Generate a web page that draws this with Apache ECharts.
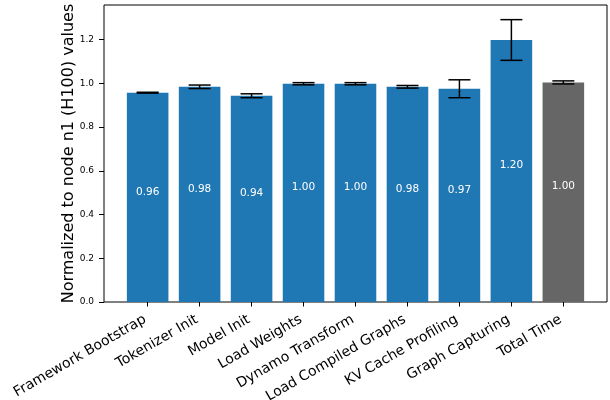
<!DOCTYPE html>
<html><head><meta charset="utf-8">
<script src="https://cdn.jsdelivr.net/npm/echarts@6/dist/echarts.min.js"></script>
<style>html,body{margin:0;padding:0;background:#fff}#c{width:610px;height:400px}</style>
</head><body><div id="c"></div>
<script>
const categories = ["Framework Bootstrap","Tokenizer Init","Model Init","Load Weights","Dynamo Transform","Load Compiled Graphs","KV Cache Profiling","Graph Capturing","Total Time"];
const values = [0.957, 0.984, 0.943, 0.998, 0.998, 0.984, 0.975, 1.198, 1.004];
const errors = [0.002, 0.008, 0.009, 0.005, 0.005, 0.006, 0.041, 0.093, 0.007];
const labels = ["0.96","0.98","0.94","1.00","1.00","0.98","0.97","1.20","1.00"];
const yTicks = [0, 0.2, 0.4, 0.6, 0.8, 1.0, 1.2];
const barColor = '#1f77b4', totalColor = '#666666';
const yMax = 1.358;
const FONT = 'DejaVu Sans';

const chart = echarts.init(document.getElementById('c'), null, {renderer:'canvas'});
const plotL = 104, plotR = 3, plotT = 5, plotB = 98;
const plotW = 610 - plotL - plotR;
const unit = plotW / 9.68;
const dataL = plotL + 0.34 * unit;
const dataW = 9 * unit;

chart.setOption({
  animation: false,
  textStyle: {fontFamily: FONT},
  grid: [
    {left: plotL, right: plotR, top: plotT, bottom: plotB, show: true, borderColor: '#000', borderWidth: 1,
     backgroundColor: 'transparent', outerBoundsMode: 'none', containLabel: false},
    {left: dataL, width: dataW, top: plotT, bottom: plotB, outerBoundsMode: 'none', containLabel: false}
  ],
  xAxis: [
    {gridIndex: 0, type: 'value', min: 0, max: 1, show: false},
    {gridIndex: 1, type: 'category', data: categories,
     axisLine: {show: false},
     axisTick: {show: true, alignWithLabel: true, length: 4.5, lineStyle: {color: '#000', width: 1}},
     axisLabel: {rotate: 30, fontSize: 14, color: '#000', fontFamily: FONT, margin: 15, interval: 0,
       padding: [0, 3, 0, 0]}}
  ],
  yAxis: [
    {gridIndex: 0, type: 'value', min: 0, max: yMax,
     name: 'Normalized to node n1 (H100) values', nameLocation: 'middle', nameGap: 27, nameMoveOverlap: false,
     nameTextStyle: {fontSize: 16, color: '#000', fontFamily: FONT},
     axisLine: {show: false}, splitLine: {show: false},
     axisTick: {show: true, length: 5, lineStyle: {color: '#000'}, customValues: yTicks},
     axisLabel: {fontSize: 9, color: '#000', fontFamily: FONT, margin: 10, customValues: yTicks,
       formatter: v => v.toFixed(1)}},
    {gridIndex: 1, type: 'value', min: 0, max: yMax, show: false}
  ],
  series: [
    {type: 'bar', xAxisIndex: 1, yAxisIndex: 1, barWidth: '80%',
     data: values.map((v, i) => ({value: v, itemStyle: {color: i === values.length - 1 ? totalColor : barColor}}))},
    {type: 'custom', xAxisIndex: 1, yAxisIndex: 1, z: 5,
     data: values.map((v, i) => [i, v, errors[i]]),
     renderItem: function (params, api) {
       const i = api.value(0), v = api.value(1), e = api.value(2);
       const top = api.coord([i, v + e]);
       const bot = api.coord([i, v - e]);
       const mid = api.coord([i, v / 2]);
       const cap = 11;
       const st = {stroke: '#000', lineWidth: 1.5};
       return {type: 'group', children: [
         {type: 'line', shape: {x1: top[0], y1: top[1], x2: bot[0], y2: bot[1]}, style: st},
         {type: 'line', shape: {x1: top[0]-cap, y1: top[1], x2: top[0]+cap, y2: top[1]}, style: st},
         {type: 'line', shape: {x1: bot[0]-cap, y1: bot[1], x2: bot[0]+cap, y2: bot[1]}, style: st},
         {type: 'text', x: mid[0], y: mid[1], style: {text: labels[params.dataIndex], fill: '#fff', fontSize: 10.5, fontFamily: FONT, align: 'center', verticalAlign: 'bottom'}}
       ]};
     }}
  ]
});
</script></body></html>
